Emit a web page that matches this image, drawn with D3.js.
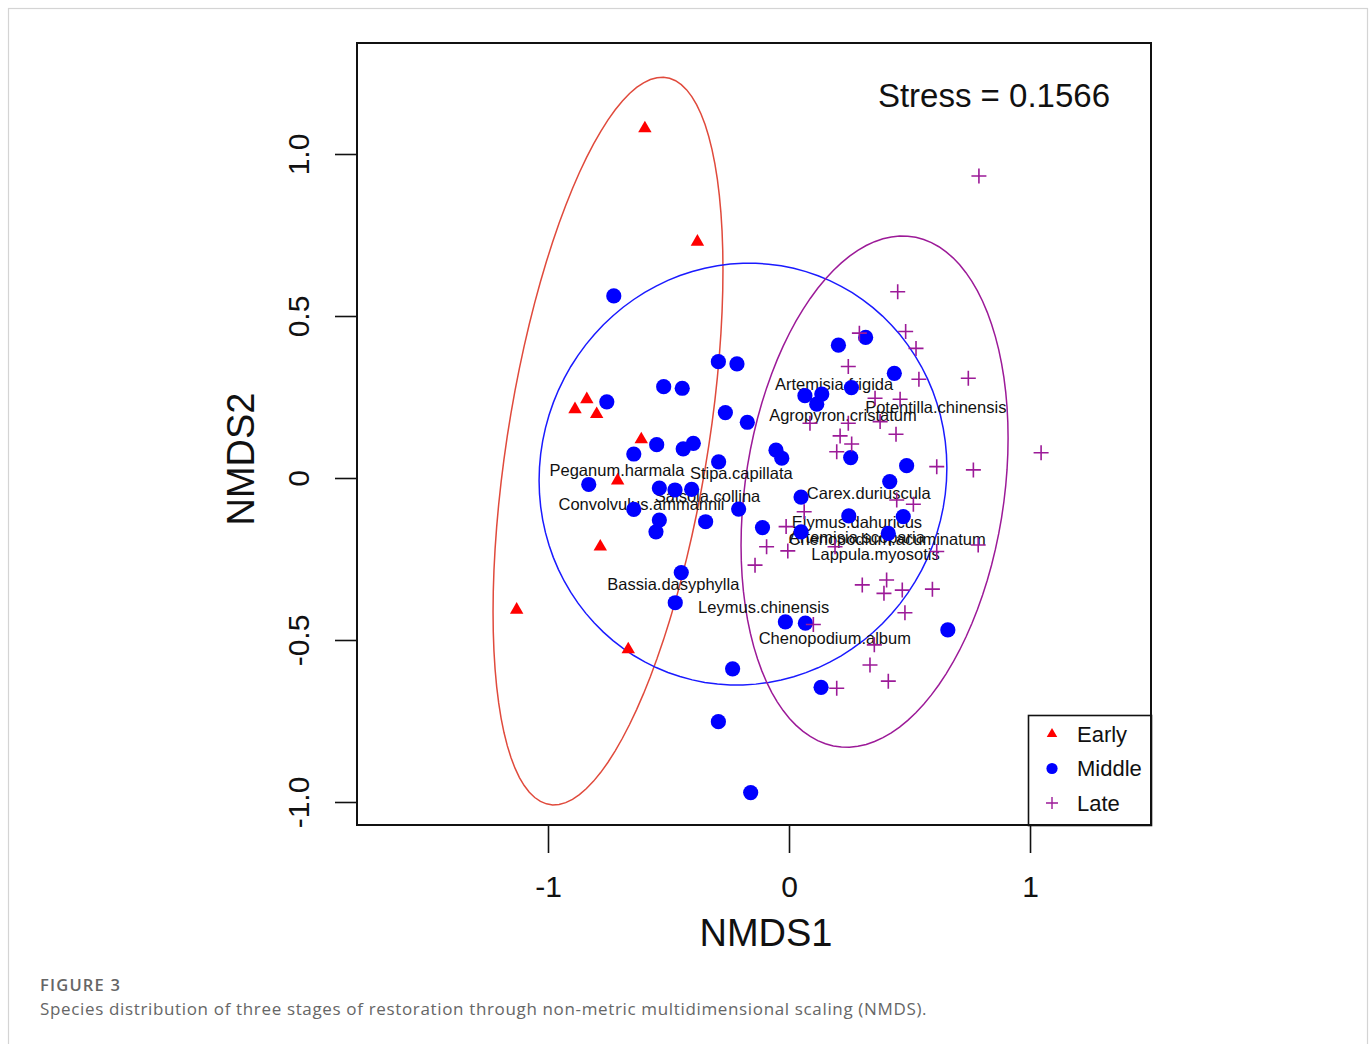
<!DOCTYPE html>
<html>
<head>
<meta charset="utf-8">
<script src="https://cdn.jsdelivr.net/npm/d3@7"></script>
<style>
  body { margin: 0; background: #fff; }
  svg { display: block; }
</style>
</head>
<body>
<script>
// Page size
var pageWidth = 1372;
var pageHeight = 1044;
var plotFont = '"Liberation Sans", Arial, sans-serif';

// NMDS site scores, [NMDS1, NMDS2]
var earlySites = [
  [-0.598, 1.079], [-0.380, 0.729], [-0.888, 0.212], [-0.839, 0.243], [-0.798, 0.197],
  [-0.613, 0.119], [-0.711, -0.008], [-0.783, -0.212], [-1.130, -0.407], [-0.667, -0.529]
];

var middleSites = [
  [-0.727, 0.562], [-0.293, 0.359], [-0.216, 0.352], [-0.520, 0.282], [-0.443, 0.277],
  [-0.756, 0.235], [-0.264, 0.202], [-0.173, 0.172], [-0.549, 0.103], [-0.644, 0.074],
  [-0.439, 0.090], [-0.397, 0.107], [-0.292, 0.050], [-0.054, 0.086], [-0.030, 0.061],
  [-0.831, -0.020], [-0.538, -0.031], [-0.473, -0.037], [-0.404, -0.035], [-0.644, -0.097],
  [-0.538, -0.130], [-0.552, -0.166], [-0.346, -0.135], [-0.209, -0.096], [-0.110, -0.153],
  [-0.447, -0.292], [-0.472, -0.385], [-0.234, -0.589], [-0.293, -0.752], [-0.159, -0.971],
  [0.133, -0.646], [0.418, -0.011], [0.050, -0.059], [0.248, -0.117], [0.474, -0.119],
  [0.050, -0.166], [0.412, -0.171], [-0.015, -0.444], [0.068, -0.448], [0.659, -0.469],
  [0.318, 0.434], [0.205, 0.410], [0.437, 0.323], [0.259, 0.279], [0.066, 0.254],
  [0.136, 0.259], [0.115, 0.228], [0.256, 0.063], [0.488, 0.038]
];

var lateSites = [
  [0.788, 0.932], [0.451, 0.575], [0.292, 0.447], [0.484, 0.452], [0.527, 0.400],
  [0.246, 0.344], [0.539, 0.305], [0.744, 0.308], [0.357, 0.246], [0.461, 0.243],
  [0.087, 0.169], [0.246, 0.169], [0.378, 0.174], [0.212, 0.130], [0.444, 0.135],
  [0.260, 0.105], [0.198, 0.081], [0.613, 0.035], [0.765, 0.025], [1.046, 0.078],
  [0.447, -0.068], [0.516, -0.081], [0.063, -0.104], [-0.012, -0.150], [-0.093, -0.212],
  [-0.005, -0.225], [-0.141, -0.269], [0.191, -0.212], [0.613, -0.227], [0.785, -0.207],
  [0.304, -0.330], [0.405, -0.315], [0.394, -0.356], [0.470, -0.346], [0.595, -0.343],
  [0.481, -0.416], [0.101, -0.452], [0.354, -0.515], [0.336, -0.577], [0.412, -0.627],
  [0.198, -0.649]
];

// Species scores (label positions)
var speciesNames = [
  "Artemisia.frigida", "Agropyron.cristatum", "Potentilla.chinensis", "Peganum.harmala",
  "Stipa.capillata", "Salsola.collina", "Convolvulus.ammannii", "Carex.duriuscula",
  "Elymus.dahuricus", "Artemisia.scoparia", "Chenopodium.acuminatum", "Lappula.myosotis",
  "Bassia.dasyphylla", "Leymus.chinensis", "Chenopodium.album"
];
var speciesScores = [
  [0.187, 0.290], [0.224, 0.194], [0.609, 0.220], [-0.714, 0.023],
  [-0.198, 0.016], [-0.338, -0.056], [-0.612, -0.080], [0.331, -0.047],
  [0.282, -0.135], [0.282, -0.181], [0.407, -0.188], [0.359, -0.235],
  [-0.480, -0.327], [-0.105, -0.397], [0.190, -0.495]
];

// Group ellipses: centre, half extents along each axis, correlation
var groupNames = ["Early", "Middle", "Late"];
var ellipseCentres = [[-0.751, 0.114], [-0.191, 0.012], [0.355, -0.042]];
var ellipseExtents = [[0.477, 1.123], [0.846, 0.651], [0.554, 0.789]];
var ellipseRho = [0.47, 0.03, 0.21];

var xTicks = [-1, 0, 1];
var yTicks = [-1, -0.5, 0, 0.5, 1];
var stressValue = "0.1566";

var pointColors = ["#ff0000", "#0000ff", "#9c1a98"];
var ellipseColors = ["#e04a3c", "#1a1aff", "#9c1a98"];

// Plot box
var box = {left: 357, right: 1151, top: 43, bottom: 825};

var x = d3.scaleLinear().domain([-1.7925, 1.502]).range([box.left, box.right]);
var y = d3.scaleLinear().domain([-1.071, 1.3426]).range([box.bottom, box.top]);

var svg = d3.select('body').append('svg')
  .attr('width', pageWidth)
  .attr('height', pageHeight)
  .style('font-family', plotFont);

// light frame around the figure
svg.append('rect')
  .attr('x', 8.5).attr('y', 8.5)
  .attr('width', 1359).attr('height', 1100)
  .attr('fill', 'none')
  .attr('stroke', '#d4d4d4')
  .attr('stroke-width', 1.2);

svg.append('clipPath').attr('id', 'plotclip')
  .append('rect')
  .attr('x', box.left).attr('y', box.top)
  .attr('width', box.right - box.left).attr('height', box.bottom - box.top);

// Axes
var xAxis = svg.append('g')
  .attr('transform', 'translate(0,' + box.bottom + ')')
  .call(d3.axisBottom(x).tickValues(xTicks).tickSize(28).tickPadding(10)
    .tickFormat(function (d) { return String(d); }));
xAxis.select('.domain').remove();
xAxis.selectAll('.tick line').attr('stroke', '#111').attr('stroke-width', 1.6);
xAxis.selectAll('.tick text')
  .attr('y', 72).attr('dy', null)
  .attr('font-size', 30).attr('fill', '#111')
  .attr('font-family', plotFont);

var yAxis = svg.append('g')
  .attr('transform', 'translate(' + box.left + ',0)')
  .call(d3.axisLeft(y).tickValues(yTicks).tickSize(22)
    .tickFormat(function (d) { return d === 0 ? "0" : d.toFixed(1); }));
yAxis.select('.domain').remove();
yAxis.selectAll('.tick line').attr('stroke', '#111').attr('stroke-width', 1.6);
yAxis.selectAll('.tick text')
  .attr('x', 0).attr('dy', null)
  .attr('y', -48)
  .attr('transform', 'rotate(-90)')
  .attr('text-anchor', 'middle')
  .attr('font-size', 30).attr('fill', '#111')
  .attr('font-family', plotFont);

// Axis titles
svg.append('text')
  .attr('x', 766).attr('y', 946)
  .attr('text-anchor', 'middle')
  .attr('font-size', 38).attr('fill', '#111')
  .text('NMDS1');

svg.append('text')
  .attr('transform', 'translate(254,459) rotate(-90)')
  .attr('text-anchor', 'middle')
  .attr('font-size', 38).attr('fill', '#111')
  .text('NMDS2');

var plot = svg.append('g').attr('clip-path', 'url(#plotclip)');

// Ellipses drawn as polygons in data space
var ellipseLine = d3.line()
  .x(function (d) { return x(d[0]); })
  .y(function (d) { return y(d[1]); });

function ellipsePoints(i) {
  var c = ellipseCentres[i], e = ellipseExtents[i], r = ellipseRho[i];
  return d3.range(0, 101).map(function (k) {
    var t = 2 * Math.PI * k / 100;
    return [c[0] + e[0] * Math.cos(t),
            c[1] + e[1] * (r * Math.cos(t) + Math.sqrt(1 - r * r) * Math.sin(t))];
  });
}

plot.selectAll('path.ellipse')
  .data(groupNames)
  .enter().append('path')
  .attr('class', 'ellipse')
  .attr('d', function (d, i) { return ellipseLine(ellipsePoints(i)); })
  .attr('fill', 'none')
  .attr('stroke', function (d, i) { return ellipseColors[i]; })
  .attr('stroke-width', 1.5);

// Species labels
plot.selectAll('text.species')
  .data(speciesNames)
  .enter().append('text')
  .attr('class', 'species')
  .attr('x', function (d, i) { return x(speciesScores[i][0]); })
  .attr('y', function (d, i) { return y(speciesScores[i][1]); })
  .attr('dy', '0.36em')
  .attr('text-anchor', 'middle')
  .attr('font-size', 16.5)
  .attr('fill', '#111')
  .text(function (d) { return d; });

// Early: filled triangles
var triangle = d3.symbol().type(d3.symbolTriangle).size(78);
plot.selectAll('path.early')
  .data(earlySites)
  .enter().append('path')
  .attr('class', 'early')
  .attr('d', triangle)
  .attr('transform', function (d) { return 'translate(' + x(d[0]) + ',' + y(d[1]) + ')'; })
  .attr('fill', pointColors[0]);

// Middle: filled circles
plot.selectAll('circle.middle')
  .data(middleSites)
  .enter().append('circle')
  .attr('class', 'middle')
  .attr('r', 7.6)
  .attr('cx', function (d) { return x(d[0]); })
  .attr('cy', function (d) { return y(d[1]); })
  .attr('fill', pointColors[1]);

// Late: plus signs
function plusPath(s) {
  return 'M' + (-s) + ',0H' + s + 'M0,' + (-s) + 'V' + s;
}
plot.selectAll('path.late')
  .data(lateSites)
  .enter().append('path')
  .attr('class', 'late')
  .attr('d', plusPath(7.5))
  .attr('transform', function (d) { return 'translate(' + x(d[0]) + ',' + y(d[1]) + ')'; })
  .attr('fill', 'none')
  .attr('stroke', pointColors[2])
  .attr('stroke-width', 1.6);

// Stress annotation
svg.append('text')
  .attr('x', 1110).attr('y', 107)
  .attr('text-anchor', 'end')
  .attr('font-size', 33).attr('fill', '#111')
  .text('Stress = ' + stressValue);

// Legend
var legend = svg.append('g');
legend.append('rect')
  .attr('x', 1028.5).attr('y', 715.5)
  .attr('width', 123).attr('height', 110)
  .attr('fill', '#fff')
  .attr('stroke', '#111')
  .attr('stroke-width', 1.6);

var legendRows = legend.selectAll('g.row')
  .data(groupNames)
  .enter().append('g')
  .attr('class', 'row')
  .attr('transform', function (d, i) { return 'translate(1052,' + (734 + i * 34.5) + ')'; });

legendRows.filter(function (d, i) { return i === 0; })
  .append('path')
  .attr('d', d3.symbol().type(d3.symbolTriangle).size(48))
  .attr('fill', pointColors[0]);
legendRows.filter(function (d, i) { return i === 1; })
  .append('circle')
  .attr('r', 5.6)
  .attr('fill', pointColors[1]);
legendRows.filter(function (d, i) { return i === 2; })
  .append('path')
  .attr('d', plusPath(6))
  .attr('stroke', pointColors[2])
  .attr('stroke-width', 1.4);

legendRows.append('text')
  .attr('x', 25)
  .attr('dy', '0.36em')
  .attr('font-size', 22)
  .attr('fill', '#111')
  .text(function (d) { return d; });

// Plot box on top
svg.append('rect')
  .attr('x', box.left).attr('y', box.top)
  .attr('width', box.right - box.left).attr('height', box.bottom - box.top)
  .attr('fill', 'none')
  .attr('stroke', '#111')
  .attr('stroke-width', 2);

// Caption
svg.append('text')
  .attr('x', 40).attr('y', 991)
  .attr('font-family', '"Open Sans", sans-serif')
  .attr('font-size', 16.5)
  .attr('font-weight', 600)
  .attr('letter-spacing', 1.2)
  .attr('fill', '#666')
  .text('FIGURE 3');

svg.append('text')
  .attr('x', 40).attr('y', 1015)
  .attr('font-family', '"Open Sans", sans-serif')
  .attr('font-size', 17)
  .attr('letter-spacing', 0.65)
  .attr('fill', '#666')
  .text('Species distribution of three stages of restoration through non-metric multidimensional scaling (NMDS).');
</script>
</body>
</html>
